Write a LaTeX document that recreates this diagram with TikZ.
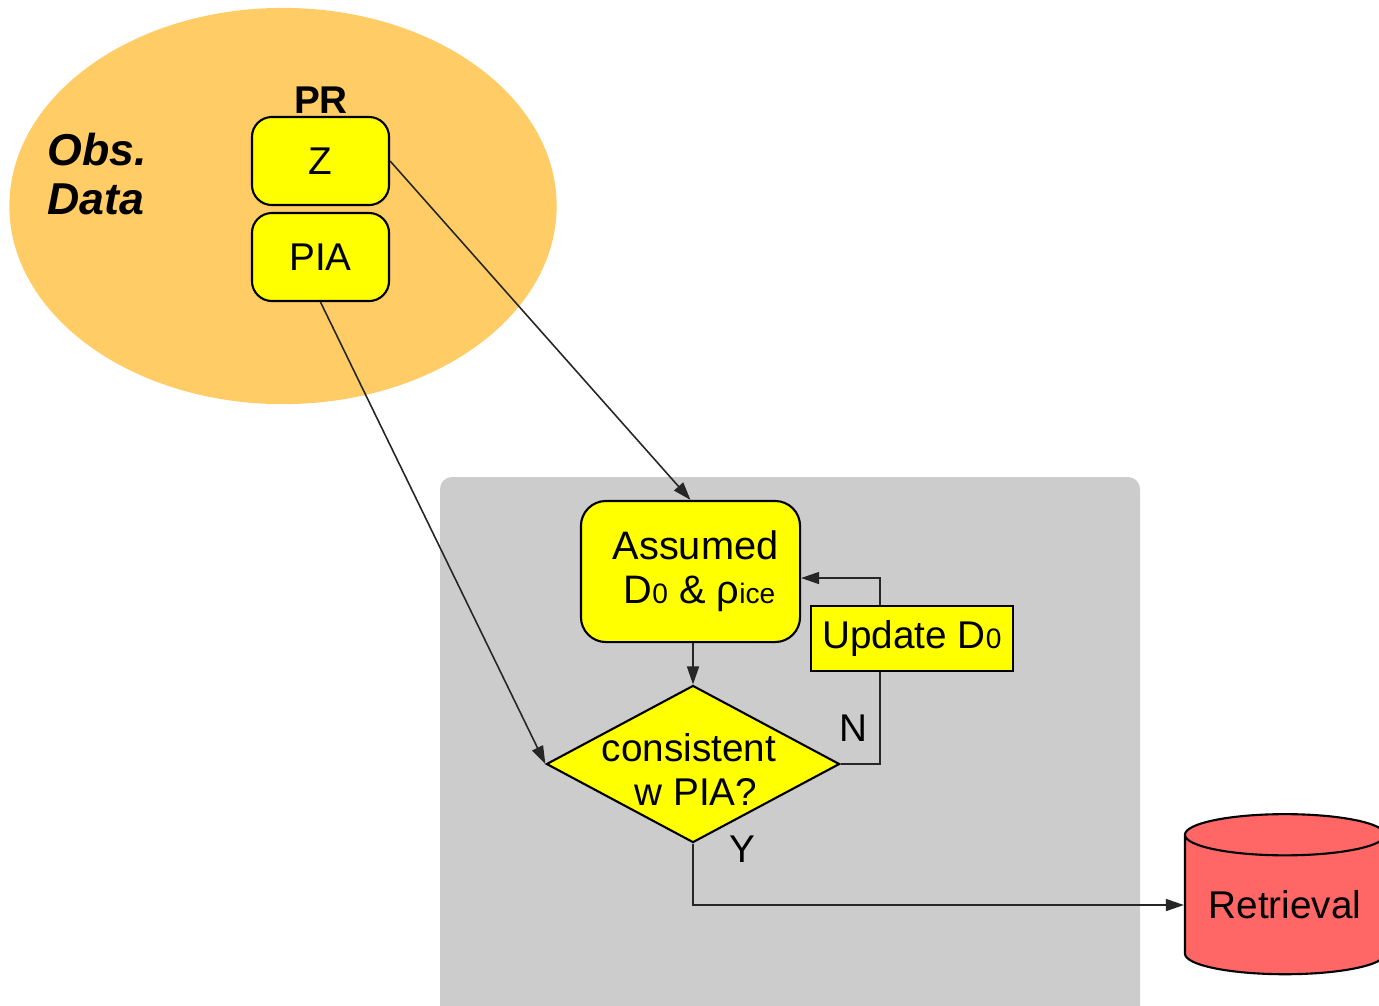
\documentclass[tikz,border=0pt]{standalone}
\usepackage{fontspec}
\setmainfont{Liberation Sans}
\usetikzlibrary{arrows.meta, positioning, shapes.geometric}
\definecolor{obsorange}{RGB}{255,204,102}
\definecolor{boxyellow}{RGB}{255,255,0}
\definecolor{panelgray}{RGB}{204,204,204}
\definecolor{retred}{RGB}{255,102,102}
\newcommand{\subsm}[1]{{\fontsize{8}{8}\selectfont #1}}

\begin{document}
\begin{tikzpicture}[x=0.01cm, y=-0.01cm,
					>={Triangle[length=1.8mm, width=1.2mm]},
					font=\fontsize{11}{12.5}\selectfont,
					databox/.style={draw=black, fill=boxyellow, rounded corners=0.2cm, line width=0.6pt,
						minimum width=1.37cm, minimum height=0.88cm, inner sep=0pt},
					flow/.style={->, line width=0.45pt, draw=black!85}]

	\useasboundingbox (0,0) rectangle (1379,1005);
	\clip (0,0) rectangle (1379,1005);

	% background regions
	\node (obs) at (283,206) [ellipse, fill=obsorange, minimum width=5.47cm, minimum height=3.96cm] {};
	\fill[panelgray, rounded corners=0.12cm] (440,477) rectangle (1140,1040);

	\node (obslbl) at (97,174) [align=left, font=\fontsize{12.7}{13.7}\selectfont\bfseries\itshape] {Obs.\\Data};
	\node (pr) at (321,100) {\bfseries PR};
	\node (z) at (320.5,161) [databox] {Z};
	\node (pia) at (320.5,257) [databox] {PIA};

	\node (as) at (690.5,571.5) [databox, minimum width=2.19cm, minimum height=1.41cm, rounded corners=0.25cm,
		align=center, font=\fontsize{11.3}{12.5}\selectfont] {\hspace*{0.1cm}Assumed\\\hspace*{0.18cm}D\subsm{0} \& ρ\subsm{ice}};
	\node (q) at (693,764) [diamond, draw=black, fill=boxyellow, line width=0.6pt, minimum width=2.93cm,
		minimum height=1.57cm, inner sep=0pt,
		label={[align=center, yshift=-0.05cm, xshift=-0.04cm]center:consistent\\\hspace*{0.14cm}w PIA?}] {};

	% loop back through the update step
	\coordinate (bend) at (880,578);
	\draw[flow] (q.east) -| (bend) -- (bend -| as.east);
	\node (upd) at (912,638.5) [draw=black, fill=boxyellow, line width=0.6pt, minimum width=2.02cm,
		minimum height=0.65cm, inner sep=0pt] {Update D\subsm{0}};

	\node (ret) at (1285,905) [cylinder, shape border rotate=90, draw=black, fill=retred, line width=0.6pt,
		aspect=0.27, minimum width=2cm, minimum height=1.6cm, inner sep=0pt] {Retrieval};

	\draw[flow] (z.east) -- (as.north);
	\draw[flow] (pia.south) -- (q.west);
	\draw[flow] (as.south -| q.north) -- (q.north);
	\draw[flow] (q.south) |- (ret.west);

	\node (nlbl) at (853,728) {N};
	\node (ylbl) at (742,849) {Y};
\end{tikzpicture}
\end{document}
